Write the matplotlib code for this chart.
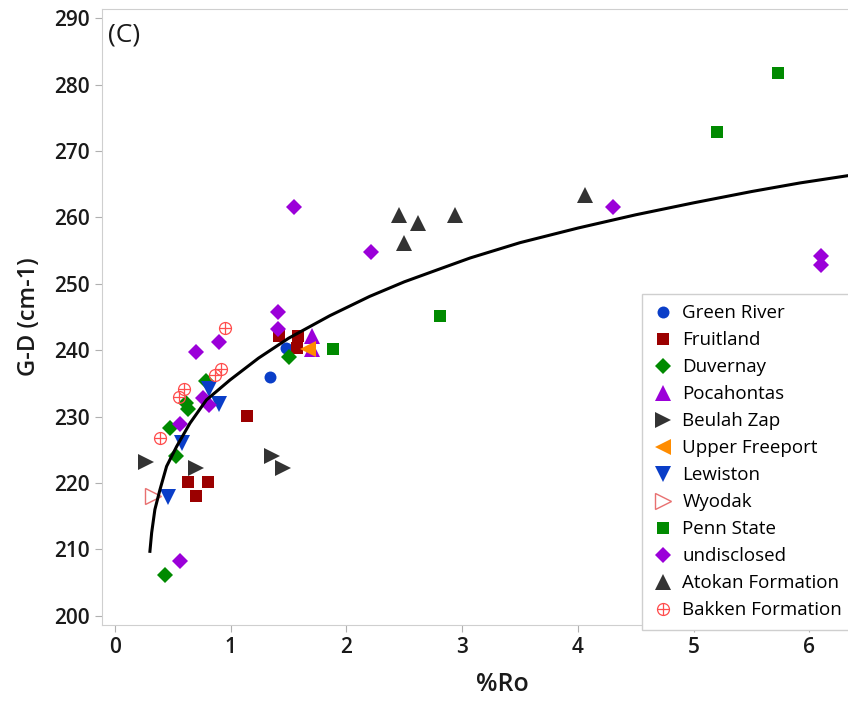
import numpy as np
import matplotlib
matplotlib.use("Agg")
import matplotlib.pyplot as plt
from matplotlib.path import Path

plt.rcParams['font.family'] = ['Open Sans', 'DejaVu Sans']

# data (%Ro, G-D)
green_river_x = [1.34, 1.48]
green_river_y = [236.0, 240.3]
fruitland_x = [1.42, 1.58, 1.57, 1.14, 0.63, 0.80, 0.70]
fruitland_y = [242.1, 242.1, 240.3, 230.1, 220.2, 220.2, 218.1]
duvernay_x = [1.50, 0.79, 0.61, 0.63, 0.475, 0.53, 0.43]
duvernay_y = [239.0, 235.3, 232.1, 231.1, 228.3, 224.1, 206.2]
pocahontas_x = [1.70, 1.70]
pocahontas_y = [240.2, 242.1]
beulah_x = [0.27, 0.70, 1.36, 1.45]
beulah_y = [223.1, 222.2, 224.1, 222.2]
freeport_x = [1.67]
freeport_y = [240.2]
lewiston_x = [0.81, 0.90, 0.58, 0.46]
lewiston_y = [234.1, 231.9, 226.0, 217.9]
wyodak_x = [0.33]
wyodak_y = [218.1]
penn_x = [2.81, 1.885, 5.20, 5.73]
penn_y = [245.2, 240.2, 272.9, 281.8]
undisc_x = [1.55, 2.21, 1.41, 1.41, 0.90, 0.70, 0.76, 0.81, 0.56, 0.56, 4.30, 6.10, 6.10]
undisc_y = [261.5, 254.8, 245.8, 243.2, 241.3, 239.7, 232.8, 231.8, 228.9, 208.3, 261.5, 254.2, 252.9]
atokan_x = [2.45, 2.62, 2.50, 2.94, 4.06]
atokan_y = [260.4, 259.2, 256.2, 260.4, 263.4]
bakken_x = [0.955, 0.92, 0.86, 0.60, 0.55, 0.39]
bakken_y = [243.4, 237.2, 236.3, 234.2, 233.0, 226.8]

# trend curve, points
fit_x = [0.302, 0.317, 0.345, 0.389, 0.446, 0.533, 0.648, 0.79, 0.993, 1.24, 1.5, 1.857,
         2.2, 2.5, 2.8, 3.07, 3.5, 4.0, 4.5, 5.0, 5.5, 5.92, 6.6]
fit_y = [209.7, 212.5, 216.0, 219.0, 222.5, 225.5, 229.0, 232.5, 235.5, 238.8, 241.8, 245.2,
         248.1, 250.3, 252.2, 253.9, 256.2, 258.4, 260.4, 262.2, 263.9, 265.2, 267.0]

# circle with a plus inside
circ = Path.unit_circle()
cross = Path([(-1, 0), (1, 0), (0, -1), (0, 1)],
             [Path.MOVETO, Path.LINETO, Path.MOVETO, Path.LINETO])
circplus = Path.make_compound_path(circ, cross)

fig = plt.figure(figsize=(8.48, 7.02), dpi=100)
ax = fig.add_axes([102/848, 77/702, 800/848, 616/702])

blue = '#0a3ec8'
red = '#9b0000'
green = '#008a00'
purple = '#9b00d9'
grey = '#333333'

ax.plot(green_river_x, green_river_y, 'o', color=blue, ms=8.6, mew=0, label='Green River')
ax.plot(fruitland_x, fruitland_y, 's', color=red, ms=8.6, mew=0, label='Fruitland')
ax.plot(duvernay_x, duvernay_y, 'D', color=green, ms=8, mew=0, label='Duvernay')
ax.plot(pocahontas_x, pocahontas_y, '^', color=purple, ms=11, mew=0, label='Pocahontas')
ax.plot(beulah_x, beulah_y, '>', color=grey, ms=11, mew=0, label='Beulah Zap')
ax.plot(freeport_x, freeport_y, '<', color='#ff8c00', ms=11, mew=0, label='Upper Freeport')
ax.plot(lewiston_x, lewiston_y, 'v', color=blue, ms=11, mew=0, label='Lewiston')
ax.plot(wyodak_x, wyodak_y, '>', mfc='none', mec='#e87070', ms=11, mew=1, label='Wyodak')
ax.plot(penn_x, penn_y, 's', color=green, ms=8.6, mew=0, label='Penn State')
ax.plot(undisc_x, undisc_y, 'D', color=purple, ms=8, mew=0, label='undisclosed')
ax.plot(atokan_x, atokan_y, '^', color=grey, ms=11, mew=0, label='Atokan Formation')
ax.plot(bakken_x, bakken_y, marker=circplus, ls='none', mfc='none', mec='#ff4d4d', ms=8.6, mew=0.9,
        label='Bakken Formation')

ax.plot(fit_x, fit_y, color='black', lw=2.2, zorder=5)

ax.set_xlim(-0.112, 6.8)
ax.set_ylim(198.6, 291.4)
ax.set_xticks(range(0, 7))
ax.set_yticks(range(200, 291, 10))

for s in ['left', 'bottom', 'top']:
    ax.spines[s].set_color('#cfcfcf')
ax.spines['right'].set_visible(False)
ax.tick_params(direction='out', length=5, color='#b0b0b0', labelsize=15, labelcolor='#1a1a1a')
for lab in ax.get_xticklabels() + ax.get_yticklabels():
    lab.set_fontweight('semibold')

ax.set_xlabel('%Ro', fontsize=18, fontweight='semibold', color='#1a1a1a', labelpad=10)
ax.set_ylabel('G-D (cm-1)', fontsize=17, fontweight='semibold', color='#1a1a1a', labelpad=10)
ax.text(0.007, 0.978, '(C)', transform=ax.transAxes, fontsize=19, va='top', ha='left', color='#1a1a1a')

leg = ax.legend(loc='upper left', bbox_to_anchor=(642/848, 408/702), bbox_transform=fig.transFigure,
                borderaxespad=0, fontsize=13.5, labelspacing=0.48, handletextpad=0.5, handlelength=1.1,
                fancybox=False, framealpha=1, edgecolor='#cfcfcf', borderpad=0.55)
leg.get_frame().set_linewidth(1)

plt.savefig('out.png', dpi=100)
